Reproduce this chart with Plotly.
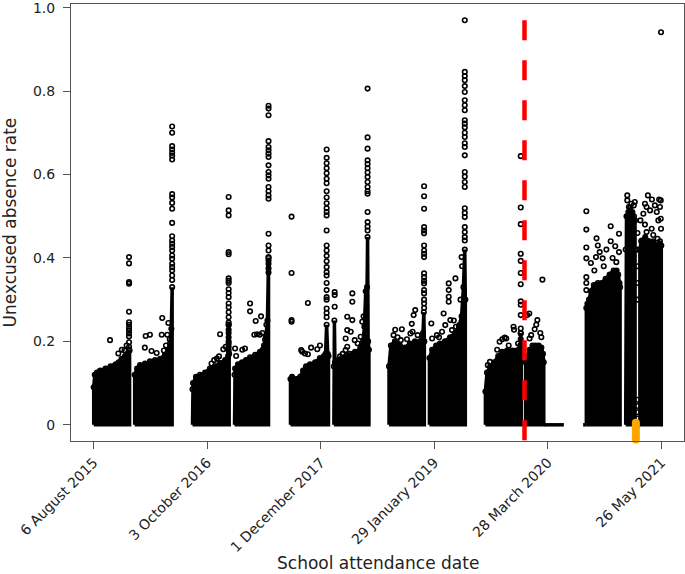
import plotly.graph_objects as go

# ---------------- axis labels ----------------
# x values are days since 6 August 2015
tick_days = [0, 424, 848, 1272, 1696, 2120]
tick_labels = ["6 August 2015", "3 October 2016", "1 December 2017",
               "29 January 2019", "28 March 2020", "26 May 2021"]
y_ticks = [0, 0.2, 0.4, 0.6, 0.8, 1.0]
y_tick_labels = ["0", "0.2", "0.4", "0.6", "0.8", "1.0"]

# ---------------- dense clouds: upper edge of the point mass per school term ----------------
t1a_days = [0, 4, 12, 24, 44, 63, 82, 93, 104, 117, 128, 134]
t1a_top = [0.09, 0.12, 0.125, 0.13, 0.135, 0.14, 0.145, 0.15, 0.158, 0.165, 0.172, 0.178]
t1b_days = [153, 162, 173, 192, 210, 229, 248, 266, 277, 285, 290, 293]
t1b_top = [0.12, 0.135, 0.143, 0.147, 0.152, 0.155, 0.158, 0.168, 0.18, 0.195, 0.23, 0.33]

t2a_days = [369, 371, 382, 397, 416, 434, 453, 472, 491, 502, 504, 506]
t2a_top = [0.085, 0.10, 0.115, 0.12, 0.125, 0.135, 0.14, 0.148, 0.155, 0.165, 0.24, 0.17]
t2b_days = [526, 528, 539, 554, 569, 584, 603, 621, 636, 643, 649, 653]
t2b_top = [0.12, 0.135, 0.145, 0.15, 0.155, 0.162, 0.168, 0.175, 0.19, 0.21, 0.25, 0.40]

t3a_days = [735, 741, 756, 771, 782, 793, 808, 827, 845, 860, 866, 870, 874, 877]
t3a_top = [0.11, 0.115, 0.11, 0.115, 0.13, 0.14, 0.145, 0.15, 0.16, 0.165, 0.17, 0.24, 0.17, 0.165]
t3b_days = [897, 899, 901, 912, 927, 942, 957, 976, 994, 1006, 1011, 1016, 1021, 1023, 1025, 1028]
t3b_top = [0.14, 0.25, 0.15, 0.155, 0.16, 0.165, 0.17, 0.175, 0.18, 0.2, 0.235, 0.32, 0.33, 0.45, 0.2, 0.18]

t4a_days = [1103, 1110, 1125, 1144, 1163, 1181, 1200, 1219, 1230, 1233, 1235]
t4a_top = [0.14, 0.19, 0.2, 0.19, 0.185, 0.195, 0.2, 0.2, 0.22, 0.27, 0.2]
t4b_days = [1254, 1264, 1279, 1293, 1312, 1331, 1350, 1364, 1374, 1381, 1386, 1388]
t4b_top = [0.16, 0.18, 0.19, 0.195, 0.2, 0.21, 0.22, 0.235, 0.26, 0.33, 0.42, 0.3]

t5a_days = [1463, 1469, 1481, 1496, 1511, 1525, 1544, 1563, 1578, 1589, 1593, 1595, 1597]
t5a_top = [0.08, 0.125, 0.14, 0.15, 0.165, 0.175, 0.178, 0.178, 0.178, 0.18, 0.19, 0.22, 0.18]
t5b_days = [1613, 1617, 1628, 1639, 1651, 1662, 1672, 1678, 1681]
t5b_top = [0.15, 0.16, 0.18, 0.19, 0.19, 0.19, 0.185, 0.17, 0.15]

t6a_days = [1840, 1844, 1850, 1857, 1868, 1883, 1897, 1912, 1927, 1942, 1953, 1959, 1964, 1966]
t6a_top = [0.28, 0.29, 0.30, 0.32, 0.335, 0.34, 0.34, 0.35, 0.36, 0.37, 0.37, 0.36, 0.34, 0.33]
t6b_days = [1987, 1990, 1997, 2004, 2012, 2018, 2022]
t6b_top = [0.42, 0.50, 0.51, 0.52, 0.51, 0.50, 0.49]
t6c_days = [2040, 2045, 2060, 2075, 2090, 2105, 2115, 2120]
t6c_top = [0.42, 0.44, 0.45, 0.44, 0.44, 0.43, 0.44, 0.43]

# days with only zero absence recorded
zero_run1_days = [1684, 1756]
zero_run2_days = [1828, 1840]

# ---------------- columns of individual points on single days ----------------
column_days = [132, 293, 504, 653, 739, 870, 1023, 1234, 1386, 1595, 1840, 2031]
column_vals = [
    [0.402, 0.387, 0.342, 0.338, 0.271, 0.246, 0.240, 0.232, 0.226, 0.219, 0.212, 0.198, 0.187, 0.180],
    [0.715, 0.700, 0.668, 0.660, 0.652, 0.645, 0.636, 0.553, 0.545, 0.532, 0.518, 0.484, 0.452, 0.442,
     0.434, 0.426, 0.418, 0.406, 0.398, 0.386, 0.378, 0.370, 0.358, 0.347],
    [0.546, 0.514, 0.502, 0.414, 0.409, 0.351, 0.345, 0.340, 0.325, 0.316, 0.306, 0.291, 0.282, 0.270,
     0.258, 0.245, 0.239, 0.228, 0.220, 0.210, 0.200, 0.195, 0.187, 0.179],
    [0.765, 0.758, 0.742, 0.680, 0.666, 0.658, 0.650, 0.642, 0.622, 0.606, 0.598, 0.590, 0.570, 0.560,
     0.550, 0.542, 0.458, 0.430, 0.418, 0.402, 0.394, 0.386, 0.375, 0.365],
    [0.499, 0.364, 0.251, 0.247],
    [0.660, 0.640, 0.627, 0.615, 0.603, 0.590, 0.579, 0.560, 0.545, 0.531, 0.519, 0.510, 0.502, 0.466,
     0.430, 0.418, 0.405, 0.392, 0.378, 0.366, 0.358, 0.340, 0.323, 0.306, 0.300, 0.279, 0.268, 0.258],
    [0.806, 0.689, 0.662, 0.634, 0.625, 0.615, 0.605, 0.594, 0.582, 0.570, 0.560, 0.554, 0.510, 0.486,
     0.475, 0.466],
    [0.572, 0.548, 0.518, 0.474, 0.466, 0.459, 0.430, 0.418, 0.410, 0.402, 0.363, 0.354, 0.345, 0.339,
     0.323, 0.315, 0.300, 0.291, 0.280],
    [0.970, 0.846, 0.836, 0.826, 0.812, 0.798, 0.778, 0.766, 0.754, 0.730, 0.722, 0.713, 0.700, 0.690,
     0.675, 0.666, 0.646, 0.606, 0.595, 0.582, 0.570, 0.519, 0.508, 0.498, 0.474, 0.462, 0.450, 0.442],
    [0.644, 0.521, 0.481, 0.410, 0.393, 0.364, 0.337, 0.296, 0.288, 0.263, 0.231, 0.219, 0.205],
    [0.512, 0.468, 0.425, 0.399, 0.354, 0.340, 0.323],
    [0.0, 0.015, 0.03, 0.045, 0.06, 0.30, 0.34, 0.38, 0.42, 0.46],
]

# ---------------- scattered individual points ----------------
scatter_days = [
    61, 92, 105, 115, 123, 194, 210, 191, 216, 235, 256, 254, 275, 279, 262, 270, 284,
    472, 484, 493, 440, 450, 460, 468, 528, 532, 555, 565, 584, 584, 605, 625, 600, 610, 620, 640, 630, 645,
    779, 789, 800, 835, 800, 775, 812, 845, 900, 900, 900, 920, 941, 947, 941, 947, 960, 947, 966, 966, 966,
    975, 986, 997, 997, 1003, 930, 1008,
    1126, 1151, 1147, 1183, 1191, 1195, 1201, 1188, 1135, 1170, 1120, 1210, 1261, 1264, 1282, 1301, 1307,
    1313, 1326, 1326, 1326, 1326, 1332, 1338, 1351, 1353, 1366, 1374, 1376, 1370, 1290, 1345,
    1472, 1480, 1507, 1516, 1526, 1535, 1541, 1568, 1570, 1550, 1585, 1617, 1627, 1628, 1634, 1647, 1653,
    1657, 1676, 1668, 1672, 1619,
    1857, 1878, 1883, 1890, 1876, 1901, 1915, 1931, 1931, 1948, 1962, 1962, 1938, 1952, 1870, 1905,
    1993, 1993, 1999, 2021, 2017, 2008,
    2042, 2053, 2059, 2065, 2078, 2096, 2103, 2115, 2118, 2118, 2109, 2119, 2106, 2047, 2065, 2084, 2090,
    2059, 2112, 2085, 2070, 2119,
]
scatter_vals = [
    0.203, 0.171, 0.180, 0.178, 0.19, 0.213, 0.216, 0.185, 0.177, 0.172, 0.256, 0.216, 0.216, 0.244, 0.178, 0.19, 0.205,
    0.217, 0.181, 0.187, 0.147, 0.155, 0.159, 0.164, 0.183, 0.165, 0.180, 0.183, 0.291, 0.272, 0.249, 0.26, 0.216, 0.217,
    0.216, 0.204, 0.22, 0.24,
    0.175, 0.171, 0.292, 0.181, 0.169, 0.179, 0.185, 0.19, 0.318, 0.311, 0.283, 0.164, 0.179, 0.187, 0.207, 0.227, 0.223,
    0.259, 0.315, 0.295, 0.251, 0.203, 0.195, 0.187, 0.211, 0.247, 0.17, 0.26,
    0.228, 0.229, 0.203, 0.219, 0.223, 0.263, 0.275, 0.242, 0.21, 0.205, 0.215, 0.215, 0.243, 0.207, 0.215, 0.223, 0.267,
    0.239, 0.339, 0.323, 0.307, 0.295, 0.251, 0.227, 0.351, 0.235, 0.239, 0.402, 0.38, 0.30, 0.21, 0.25,
    0.143, 0.151, 0.18, 0.199, 0.205, 0.209, 0.207, 0.235, 0.228, 0.19, 0.195, 0.155, 0.267, 0.207, 0.215, 0.229, 0.24,
    0.251, 0.348, 0.22, 0.21, 0.263,
    0.388, 0.447, 0.43, 0.414, 0.402, 0.399, 0.42, 0.476, 0.44, 0.428, 0.458, 0.414, 0.40, 0.39, 0.37, 0.38,
    0.55, 0.538, 0.522, 0.534, 0.526, 0.53,
    0.49, 0.506, 0.53, 0.522, 0.514, 0.526, 0.51, 0.522, 0.538, 0.494, 0.49, 0.47, 0.446, 0.442, 0.462, 0.47, 0.455,
    0.48, 0.54, 0.54, 0.55, 0.941,
]

# reference dates
first_case_day = 1609     # red dashed marker
orange_day = 2025         # orange marker

terms = [(t1a_days, t1a_top), (t1b_days, t1b_top), (t2a_days, t2a_top), (t2b_days, t2b_top),
         (t3a_days, t3a_top), (t3b_days, t3b_top), (t4a_days, t4a_top), (t4b_days, t4b_top),
         (t5a_days, t5a_top), (t5b_days, t5b_top), (t6a_days, t6a_top), (t6b_days, t6b_top),
         (t6c_days, t6c_top)]

fig = go.Figure()
for days, tops in terms:
    xs = [days[0]] + list(days) + [days[-1], days[0]]
    ys = [0] + list(tops) + [0, 0]
    fig.add_trace(go.Scatter(x=xs, y=ys, mode="lines", fill="toself", fillcolor="black",
                             line=dict(color="black", width=3.5), hoverinfo="skip", showlegend=False))
for run in (zero_run1_days, zero_run2_days):
    fig.add_trace(go.Scatter(x=run, y=[0, 0], mode="lines", line=dict(color="black", width=3.5),
                             showlegend=False))

px, py = [], []
for d, vals in zip(column_days, column_vals):
    for v in vals:
        px.append(d)
        py.append(v)
px += scatter_days
py += scatter_vals
px += [t[0][i] for t in terms for i in range(len(t[0]))]
py += [t[1][i] for t in terms for i in range(len(t[1]))]
fig.add_trace(go.Scatter(x=px, y=py, mode="markers", showlegend=False,
                         marker=dict(symbol="circle-open", size=4.5, color="black", line=dict(width=1.6))))

fig.add_trace(go.Scatter(x=[orange_day, orange_day], y=[0.005, -0.035], mode="lines+markers",
                         line=dict(color="#FFA500", width=8), cliponaxis=False,
                         marker=dict(color="#FFA500", size=8), showlegend=False))

fig.add_shape(type="line", xref="x", yref="y", x0=first_case_day, x1=first_case_day,
              y0=0.97, y1=-0.0388, line=dict(color="#FF0000", width=4.5, dash="20px,20px"))

axis_font = dict(family="DejaVu Sans", size=14, color="#222222")
common = dict(showline=True, linecolor="#555555", linewidth=1, mirror=True, ticks="outside",
              ticklen=7, tickcolor="#555555", showgrid=False, zeroline=False, tickfont=axis_font,
              automargin=False, ticklabeloverflow="allow")
fig.update_layout(
    width=685, height=574, margin=dict(l=71, r=1, t=4, b=133),
    paper_bgcolor="white", plot_bgcolor="white", showlegend=False,
    xaxis=dict(range=[-84.8, 2204.8], tickmode="array", tickvals=tick_days, ticktext=tick_labels,
               tickangle=-45, **common),
    yaxis=dict(range=[-0.0388, 1.0088], tickmode="array", tickvals=y_ticks, ticktext=y_tick_labels,
               ticklabelstandoff=5, **common),
    annotations=[
        dict(text="School attendance date", xref="paper", yref="paper", x=0.5, y=0, yshift=-122,
             xanchor="center", yanchor="middle", showarrow=False,
             font=dict(family="DejaVu Sans", size=17, color="#222222")),
        dict(text="Unexcused absence rate", xref="paper", yref="paper", x=0, y=0.5, xshift=-62,
             xanchor="center", yanchor="middle", textangle=-90, showarrow=False,
             font=dict(family="DejaVu Sans", size=17, color="#222222")),
    ],
)
fig.write_html("out.html", config={"responsive": False, "displayModeBar": False},
               post_script="document.body.style.margin='0px';document.body.style.overflow='hidden';")
